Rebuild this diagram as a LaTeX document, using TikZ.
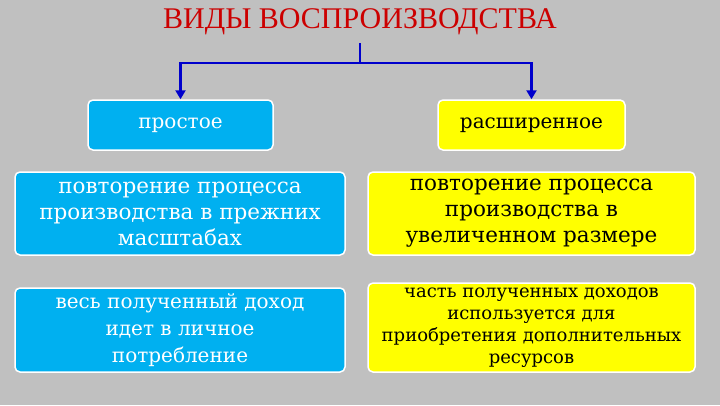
\documentclass[tikz,border=0pt]{standalone}
\usepackage{fontspec}
\setmainfont{Liberation Serif}
\newfontfamily\bxf{DejaVu Serif}
\usetikzlibrary{arrows.meta}
\definecolor{bg}{HTML}{C0C0C0}
\definecolor{bblue}{HTML}{00B0F0}
\definecolor{byel}{HTML}{FFFF00}
\definecolor{ttl}{HTML}{CC0000}
\definecolor{lnk}{HTML}{0000CC}
\begin{document}
\begin{tikzpicture}[x=1pt,y=-1pt,
  box/.style={draw=white,line width=1.5pt,rounded corners=5pt,align=center,inner sep=0pt},
  bluebox/.style={box,fill=bblue,text=white},
  yelbox/.style={box,fill=byel,text=black},
  con/.style={draw=lnk,line width=2.5pt}]
\fill[bg] (0,0) rectangle (720,405);
\useasboundingbox (0,0) rectangle (720,405);
\node[text=ttl,font=\fontsize{30}{32}\selectfont] (t) at (360,22) {ВИДЫ ВОСПРОИЗВОДСТВА};
\node[bluebox,minimum width=185pt,minimum height=50pt,font=\bxf\fontsize{20}{24}\selectfont] (p) at (180.5,125) {простое};
\node[yelbox,minimum width=187pt,minimum height=50pt,font=\bxf\fontsize{20}{24}\selectfont] (r) at (531.5,125) {расширенное};
\node[bluebox,minimum width=330pt,minimum height=83pt,font=\bxf\fontsize{21.5}{26}\selectfont] (p2) at (180,213.5) {повторение процесса\\производства в прежних\\масштабах};
\node[yelbox,minimum width=327pt,minimum height=83pt,font=\bxf\fontsize{21.5}{26}\selectfont] (r2) at (531.5,213.5) {повторение процесса\\производства в\\увеличенном размере};
\node[bluebox,minimum width=330pt,minimum height=84pt,font=\bxf\fontsize{20}{27}\selectfont] (p3) at (180,330) {весь полученный доход\\идет в личное\\потребление};
\node[yelbox,minimum width=327pt,minimum height=89pt,font=\bxf\fontsize{18}{22}\selectfont] (r3) at (531.5,327.5) {часть полученных доходов\\используется для\\приобретения дополнительных\\ресурсов};
\coordinate (j) at (360,63);
\draw[con] (360,43) -- (j);
\draw[con,-{Triangle[length=9pt,width=10pt]}] (j) -| (p.north);
\draw[con,-{Triangle[length=9pt,width=10pt]}] (j) -| (r.north);
\end{tikzpicture}
\end{document}
